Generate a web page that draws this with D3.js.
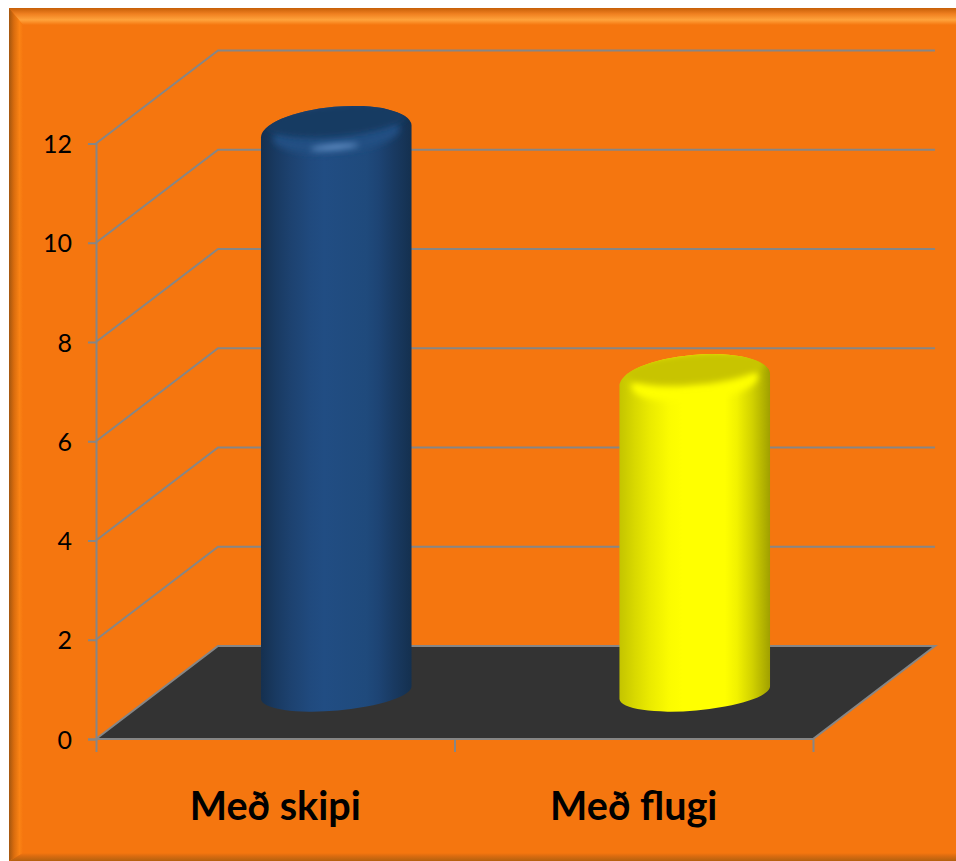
<!DOCTYPE html>
<html>
<head>
<meta charset="utf-8">
<script src="https://cdn.jsdelivr.net/npm/d3@7"></script>
<style>
  html, body { margin: 0; padding: 0; background: #fff; }
  svg { display: block; }
  text { font-family: Lato, Carlito, sans-serif; fill: #000; }
</style>
</head>
<body>
<svg width="956" height="861"></svg>
<script>
const categories = ['Með skipi', 'Með flugi'];
const values = [11.3, 6.3];
const tickLabels = [0, 2, 4, 6, 8, 10, 12];
const barPalettes = [
  {
    stops: ['#15304f', '#193a62', '#1d4270', '#204a7e', '#214d83', '#1f4a7c', '#1d4474', '#193a62', '#14304f'],
    lid: '#173a62', rim: '#225083', glow: '#6a98cf'
  },
  {
    stops: ['#c4c400', '#d8d800', '#eaea00', '#fbfb00', '#ffff00', '#ffff00', '#f2f200', '#d2d200', '#a0a000'],
    lid: '#c8c400', rim: '#ffff00', glow: '#ffff00'
  }
];

const svg = d3.select('svg');
const defs = svg.append('defs');
const width = 956, height = 861;
const orange = '#f5760f';
const gray = '#868686';

// front plane of the 3D box, back wall is shifted by depth
const depth = { x: 122, y: -93 };
const x = d3.scaleBand().domain(categories).range([96, 813]);
const edges = d3.scaleLinear().domain([0, 2]).range([96, 813]);
const y = d3.scaleLinear().domain([0, 12]).range([739, 143.5]);

function linear(id, dir, stops) {
  const g = defs.append('linearGradient').attr('id', id)
    .attr('x1', 0).attr('y1', 0)
    .attr('x2', dir === 'h' ? 1 : 0).attr('y2', dir === 'h' ? 0 : 1);
  stops.forEach((s) => g.append('stop').attr('offset', s[0]).attr('stop-color', s[1]));
}

linear('bevelTop', 'v', [[0, '#c65f08'], [0.35, '#f08020'], [0.7, '#ffa33c'], [1, orange]]);
linear('bevelLeft', 'h', [[0, '#a3560f'], [0.35, '#d96c0e'], [0.75, '#fb8314'], [1, orange]]);
linear('bevelBottom', 'v', [[0, orange], [0.35, '#dc6c10'], [1, '#b4610f']]);

defs.append('filter').attr('id', 'soft').attr('x', '-20%').attr('y', '-60%').attr('width', '140%').attr('height', '220%')
  .append('feGaussianBlur').attr('stdDeviation', 3);
defs.append('filter').attr('id', 'softer').attr('x', '-40%').attr('y', '-300%').attr('width', '180%').attr('height', '700%')
  .append('feGaussianBlur').attr('stdDeviation', 3);

// card with bevelled edges
const card = { left: 9, top: 8, right: width, bottom: height };
svg.append('rect').attr('x', card.left).attr('y', card.top)
  .attr('width', card.right - card.left).attr('height', card.bottom - card.top).attr('fill', orange);
svg.append('path')
  .attr('d', `M${card.left},${card.top}L${card.right},${card.top}L${card.right},25L23,25Z`)
  .attr('fill', 'url(#bevelTop)');
svg.append('path')
  .attr('d', `M${card.left},${card.top}L23,25L23,853L${card.left},${card.bottom}Z`)
  .attr('fill', 'url(#bevelLeft)');
svg.append('path')
  .attr('d', `M${card.left},${card.bottom}L23,853L${card.right},853L${card.right},${card.bottom}Z`)
  .attr('fill', 'url(#bevelBottom)');

// floor
const floorY = y(0);
svg.append('path')
  .attr('d', `M96,${floorY}L${96 + depth.x},${floorY + depth.y}L${813 + depth.x},${floorY + depth.y}L813,${floorY}Z`)
  .attr('fill', '#333333')
  .attr('stroke', gray).attr('stroke-width', 2);

// gridlines: side wall + back wall
const gridLine = d3.line();
svg.append('g').selectAll('path')
  .data(tickLabels.slice(1))
  .join('path')
  .attr('d', (d) => gridLine([
    [96, y(d)],
    [96 + depth.x, y(d) + depth.y],
    [813 + depth.x, y(d) + depth.y]
  ]))
  .attr('fill', 'none').attr('stroke', gray).attr('stroke-width', 2);

// axes
const yAxis = svg.append('g').attr('transform', 'translate(96,0)')
  .call(d3.axisLeft(y).tickValues(tickLabels).tickSize(8).tickPadding(16));
yAxis.selectAll('line, path').attr('stroke', gray).attr('stroke-width', 2);
yAxis.selectAll('text').attr('font-size', 25).attr('dy', '0.36em');

const edgeAxis = svg.append('g').attr('transform', `translate(0,${floorY})`)
  .call(d3.axisBottom(edges).tickValues([0, 1, 2]).tickSize(13).tickFormat(''));
edgeAxis.selectAll('line, path').attr('stroke', gray).attr('stroke-width', 2);
edgeAxis.select('.domain').attr('d', `M96,0H813`);

const xAxis = svg.append('g').attr('transform', `translate(0,${floorY})`)
  .call(d3.axisBottom(x).tickSize(0).tickPadding(53));
xAxis.select('.domain').remove();
xAxis.selectAll('text').attr('font-size', 39.5).attr('font-weight', 700).attr('dy', '0.71em');

// cylinders stand in the middle of the floor depth
const barW = x.bandwidth() * 0.42;
const rx = barW / 2, ryBase = 18, ryTop = 25, tilt = -5;
const slope = Math.tan(tilt * Math.PI / 180);
const bodyOffsets = [0, 0.1, 0.2, 0.33, 0.42, 0.7, 0.78, 0.88, 1];

categories.forEach((c, i) => {
  const cx = x(c) + x.bandwidth() / 2 + depth.x / 2;
  const base = y(0) + depth.y / 2;
  const top = y(values[i]) + depth.y / 2;
  const p = barPalettes[i];
  const g = svg.append('g');
  linear('body' + i, 'h', bodyOffsets.map((o, k) => [o, p.stops[k]]));

  const dy = rx * slope;
  const outline = `M${cx - rx},${top - dy}` +
    `L${cx - rx},${base - dy}` +
    `A${rx},${ryBase} ${tilt} 0 0 ${cx + rx},${base + dy}` +
    `L${cx + rx},${top + dy}` +
    `A${rx},${ryTop} ${tilt} 0 0 ${cx - rx},${top - dy}Z`;

  defs.append('clipPath').attr('id', 'shape' + i).append('path').attr('d', outline);
  g.append('path').attr('d', outline).attr('fill', `url(#body${i})`);

  // soft cap, clipped to the cylinder outline
  const cap = g.append('g').attr('clip-path', `url(#shape${i})`);
  const rot = `rotate(${tilt} ${cx} ${top})`;
  cap.append('ellipse')
    .attr('cx', cx).attr('cy', top + 2).attr('rx', rx - 12).attr('ry', ryTop - 6)
    .attr('transform', rot).attr('fill', p.rim).attr('filter', 'url(#soft)');
  cap.append('ellipse')
    .attr('cx', cx + 1).attr('cy', top - 11).attr('rx', rx - 5).attr('ry', 16)
    .attr('transform', rot).attr('fill', p.lid).attr('filter', 'url(#soft)');
  cap.append('ellipse')
    .attr('cx', cx - 3).attr('cy', top + 15).attr('rx', 24).attr('ry', 2.5)
    .attr('transform', rot).attr('fill', p.glow).attr('filter', 'url(#softer)');
});
</script>
</body>
</html>
